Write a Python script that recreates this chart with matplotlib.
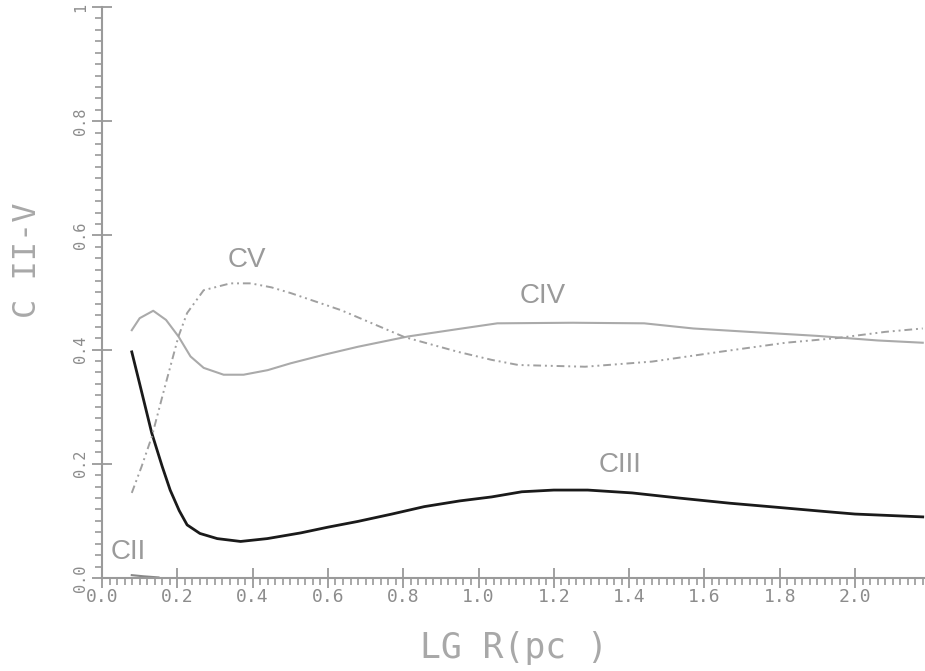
import numpy as np
import matplotlib.pyplot as plt
from matplotlib.ticker import MultipleLocator, FormatStrFormatter

# values
x_c2 = [0.079, 0.11, 0.15]
y_c2 = [0.005, 0.003, 0.001]

x_c3 = [0.079, 0.10, 0.132, 0.16, 0.181, 0.205, 0.226, 0.26, 0.306, 0.368,
        0.439, 0.528, 0.60, 0.679, 0.77, 0.856, 0.95, 1.035, 1.115, 1.2,
        1.29, 1.408, 1.533, 1.667, 1.79, 1.928, 2.0, 2.18]
y_c3 = [0.396, 0.34, 0.254, 0.195, 0.154, 0.118, 0.093, 0.078, 0.069, 0.064,
        0.069, 0.079, 0.089, 0.099, 0.112, 0.125, 0.135, 0.142, 0.151, 0.154,
        0.154, 0.149, 0.140, 0.131, 0.124, 0.116, 0.112, 0.107]

x_c4 = [0.079, 0.10, 0.136, 0.17, 0.203, 0.235, 0.27, 0.323, 0.376, 0.44,
        0.501, 0.59, 0.68, 0.813, 0.946, 1.05, 1.25, 1.44, 1.57, 1.72,
        1.90, 2.06, 2.18]
y_c4 = [0.434, 0.455, 0.468, 0.452, 0.423, 0.388, 0.368, 0.356, 0.356, 0.364,
        0.376, 0.391, 0.405, 0.423, 0.436, 0.446, 0.447, 0.446, 0.437, 0.431,
        0.424, 0.416, 0.412]

x_c5 = [0.079, 0.105, 0.132, 0.165, 0.203, 0.226, 0.27, 0.341, 0.395, 0.45,
        0.501, 0.635, 0.803, 0.946, 1.035, 1.106, 1.283, 1.461, 1.64, 1.816,
        1.95, 2.08, 2.18]
y_c5 = [0.149, 0.195, 0.247, 0.33, 0.423, 0.464, 0.504, 0.516, 0.516, 0.509,
        0.499, 0.469, 0.422, 0.396, 0.382, 0.373, 0.370, 0.379, 0.396, 0.412,
        0.420, 0.431, 0.437]

names = ['CII', 'CIII', 'CIV', 'CV']
name_x = [0.069, 1.376, 1.171, 0.384]
name_y = [0.046, 0.198, 0.493, 0.557]

grey = '#9a9a9a'
mono = ['DejaVu Sans Mono']

fig = plt.figure(figsize=(9.25, 6.71), dpi=100)
ax = fig.add_axes([0.1103, 0.1386, 0.8897, 0.851])

ax.plot(x_c2, y_c2, color='#888888', lw=1.5)
ax.plot(x_c3, y_c3, color='#1a1a1a', lw=2.0)
ax.plot(x_c4, y_c4, color='#aaaaaa', lw=1.5)
ax.plot(x_c5, y_c5, color='#a0a0a0', lw=1.4, dashes=(4, 2, 1, 2, 1, 2))

for n, tx, ty in zip(names, name_x, name_y):
    ax.text(tx, ty, n, color=grey, fontsize=20, family='Liberation Sans',
            ha='center', va='center')

ax.set_xlim(0, 2.186)
ax.set_ylim(0, 1)

for s in ['top', 'right']:
    ax.spines[s].set_visible(False)
for s in ['left', 'bottom']:
    ax.spines[s].set_color(grey)
    ax.spines[s].set_linewidth(1.5)

ax.xaxis.set_major_locator(MultipleLocator(0.2))
ax.xaxis.set_minor_locator(MultipleLocator(0.02))
ax.yaxis.set_minor_locator(MultipleLocator(0.02))
ax.xaxis.set_major_formatter(FormatStrFormatter('%.1f'))

ax.tick_params(which='major', direction='inout', length=14, width=1.3,
               color=grey, labelcolor='#8c8c8c', pad=0)
ax.tick_params(which='minor', direction='out', length=5, width=1.2, color=grey)
ax.tick_params(axis='x', which='major', labelsize=13)
ax.tick_params(axis='y', which='major', labelsize=11, pad=3)
for lab in ax.get_xticklabels():
    lab.set_family(mono)

# 1 is drawn without decimals at the top
ax.set_yticks([0, 0.2, 0.4, 0.6, 0.8, 1.0])
ax.set_yticklabels(['0.0', '0.2', '0.4', '0.6', '0.8', '1'], rotation=90,
                   va='center', family=mono)

ax.set_xlabel('LG R(pc )', family=mono, fontsize=25, color='#a8a8a8',
              labelpad=18)
ax.set_ylabel('C II-V', family=mono, fontsize=23, color='#a8a8a8')
ax.yaxis.set_label_coords(-0.072, 0.557)

fig.savefig('out.png', dpi=100)
